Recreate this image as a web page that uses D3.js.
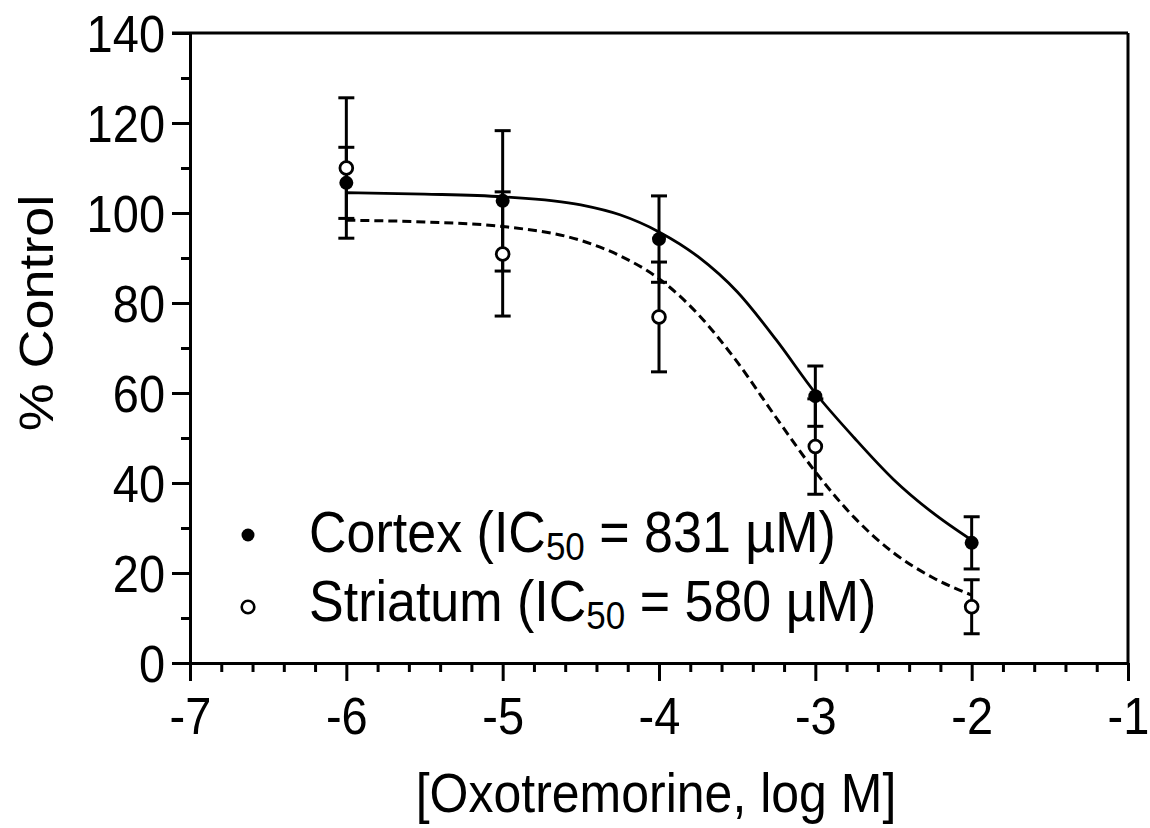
<!DOCTYPE html>
<html>
<head>
<meta charset="utf-8">
<script src="https://cdn.jsdelivr.net/npm/d3@7"></script>
<style>
  html, body { margin: 0; padding: 0; background: #fff; }
  svg { display: block; }
  text, tspan { font-family: "Liberation Sans", Arial, Helvetica, sans-serif; fill: #000; }
</style>
</head>
<body>
<svg id="chart" width="1150" height="828"></svg>
<script>
// ---------- data ----------
const doseLog = [-6, -5, -4, -3, -2];
const cortexMean = [106.7, 102.7, 94.2, 59.3, 26.7];
const cortexErr = [7.9, 15.6, 9.6, 6.7, 5.8];
const striatumMean = [110.0, 90.9, 76.9, 48.1, 12.5];
const striatumErr = [15.6, 13.8, 12.2, 10.6, 6.0];

// fitted curves
const fitX = [-6, -5.5, -5, -4.5, -4.25, -4, -3.75, -3.5, -3.25, -3, -2.75, -2.5, -2.25, -2];
const cortexFit = [104.5, 104.2, 103.6, 101.8, 99.6, 95.8, 90.3, 82.5, 71.8, 60.0, 50.0, 40.8, 33.4, 27.3];
const striatumFit = [98.4, 98.0, 97.0, 93.9, 90.5, 85.4, 77.5, 66.9, 54.5, 42.5, 32.3, 24.5, 19.0, 15.1];

const xTickValues = [-7, -6, -5, -4, -3, -2, -1];
const xTickLabels = ["-7", "-6", "-5", "-4", "-3", "-2", "-1"];
const xMinorTicks = [-6.8,-6.6,-6.4,-6.2,-5.8,-5.6,-5.4,-5.2,-4.8,-4.6,-4.4,-4.2,-3.8,-3.6,-3.4,-3.2,-2.8,-2.6,-2.4,-2.2,-1.8,-1.6,-1.4,-1.2];
const yTickValues = [0, 20, 40, 60, 80, 100, 120, 140];
const yTickLabels = ["0", "20", "40", "60", "80", "100", "120", "140"];
const yMinorTicks = [10, 30, 50, 70, 90, 110, 130];

const legendLabels = [
  { name: "Cortex (IC", sub: "50", rest: " = 831 \u00B5M)", filled: true },
  { name: "Striatum (IC", sub: "50", rest: " = 580 \u00B5M)", filled: false }
];
const xTitle = "[Oxotremorine, log M]";
const yTitle = "% Control";

// ---------- layout ----------
const svg = d3.select("#chart");
const x = d3.scaleLinear().domain([-7, -1]).range([190, 1128]);
const y = d3.scaleLinear().domain([0, 140]).range([663, 33]);
const SY = 1.1; // vertical stretch of the original lettering

// frame (top + right)
svg.append("line").attr("x1", 172).attr("x2", x(-1)).attr("y1", y(140)).attr("y2", y(140))
  .attr("stroke", "#000").attr("stroke-width", 3);
svg.append("line").attr("x1", x(-1)).attr("x2", x(-1)).attr("y1", y(140)).attr("y2", y(0))
  .attr("stroke", "#000").attr("stroke-width", 3);

// x axis
const gX = svg.append("g").attr("transform", `translate(0,${y(0)})`)
  .call(d3.axisBottom(x).tickValues(xTickValues).tickSize(18).tickSizeOuter(0)
    .tickFormat((d, i) => xTickLabels[i]));
const gXm = svg.append("g").attr("transform", `translate(0,${y(0)})`)
  .call(d3.axisBottom(x).tickValues(xMinorTicks).tickSize(9).tickFormat(""));
gXm.select(".domain").remove();
gX.selectAll(".tick text")
  .attr("y", 71 / SY).attr("dy", 0)
  .attr("transform", `scale(1,${SY})`)
  .attr("fill", "#000")
  .style("font-size", "47px");

// y axis
const gY = svg.append("g").attr("transform", `translate(${x(-7)},0)`)
  .call(d3.axisLeft(y).tickValues(yTickValues).tickSize(18).tickSizeOuter(0)
    .tickFormat((d, i) => yTickLabels[i]));
const gYm = svg.append("g").attr("transform", `translate(${x(-7)},0)`)
  .call(d3.axisLeft(y).tickValues(yMinorTicks).tickSize(9).tickFormat(""));
gYm.select(".domain").remove();
gY.selectAll(".tick text")
  .attr("x", -25).attr("dy", "0.36em")
  .attr("transform", `scale(1,${SY})`)
  .attr("fill", "#000")
  .style("font-size", "47px");

svg.selectAll(".domain").attr("stroke", "#000").attr("stroke-width", 3);
svg.selectAll(".tick line").attr("stroke", "#000").attr("stroke-width", 3);

// axis titles
svg.append("text")
  .attr("transform", `translate(656,812) scale(1,${SY})`)
  .attr("text-anchor", "middle")
  .style("font-size", "50px")
  .text(xTitle);
svg.append("text")
  .attr("transform", `translate(53,313) rotate(-90) scale(${SY},1)`)
  .attr("text-anchor", "middle")
  .style("font-size", "49px")
  .text(yTitle);

// ---------- curves ----------
const line = d3.line().x(d => x(d[0])).y(d => y(d[1])).curve(d3.curveMonotoneX);
svg.append("path").datum(fitX.map((v, i) => [v, cortexFit[i]]))
  .attr("d", line).attr("fill", "none").attr("stroke", "#000").attr("stroke-width", 2.8);
svg.append("path").datum(fitX.map((v, i) => [v, striatumFit[i]]))
  .attr("d", line).attr("fill", "none").attr("stroke", "#000").attr("stroke-width", 3)
  .attr("stroke-dasharray", "9,5");

// ---------- error bars ----------
function errorBars(means, errs) {
  const g = svg.append("g").attr("stroke", "#000").attr("stroke-width", 3);
  doseLog.forEach((d, i) => {
    const cx = x(d), top = y(means[i] + errs[i]), bot = y(means[i] - errs[i]);
    g.append("line").attr("x1", cx).attr("x2", cx).attr("y1", top).attr("y2", bot);
    g.append("line").attr("x1", cx - 8).attr("x2", cx + 8).attr("y1", top).attr("y2", top);
    g.append("line").attr("x1", cx - 8).attr("x2", cx + 8).attr("y1", bot).attr("y2", bot);
  });
}
errorBars(striatumMean, striatumErr);
errorBars(cortexMean, cortexErr);

// ---------- markers ----------
svg.append("g").selectAll("circle").data(doseLog).join("circle")
  .attr("cx", d => x(d)).attr("cy", (d, i) => y(striatumMean[i])).attr("r", 6.4)
  .attr("fill", "#fff").attr("stroke", "#000").attr("stroke-width", 2.8);
svg.append("g").selectAll("circle").data(doseLog).join("circle")
  .attr("cx", d => x(d)).attr("cy", (d, i) => y(cortexMean[i])).attr("r", 7)
  .attr("fill", "#000");

// ---------- legend ----------
const legendY = [552, 621];
const markerY = [535, 607];
legendLabels.forEach((L, i) => {
  if (L.filled) {
    svg.append("circle").attr("cx", 248).attr("cy", markerY[i]).attr("r", 6.5).attr("fill", "#000");
  } else {
    svg.append("circle").attr("cx", 248).attr("cy", markerY[i]).attr("r", 6.3)
      .attr("fill", "#fff").attr("stroke", "#000").attr("stroke-width", 2.6);
  }
  const t = svg.append("text")
    .attr("transform", `translate(309,${legendY[i]}) scale(1,${SY})`)
    .attr("fill", "#000")
    .style("font-size", "52px");
  t.append("tspan").attr("fill", "#000").text(L.name);
  t.append("tspan").attr("dy", 7).attr("fill", "#000").style("font-size", "35px").text(L.sub);
  t.append("tspan").attr("dy", -7).attr("fill", "#000").text(L.rest);
});
</script>
</body>
</html>
